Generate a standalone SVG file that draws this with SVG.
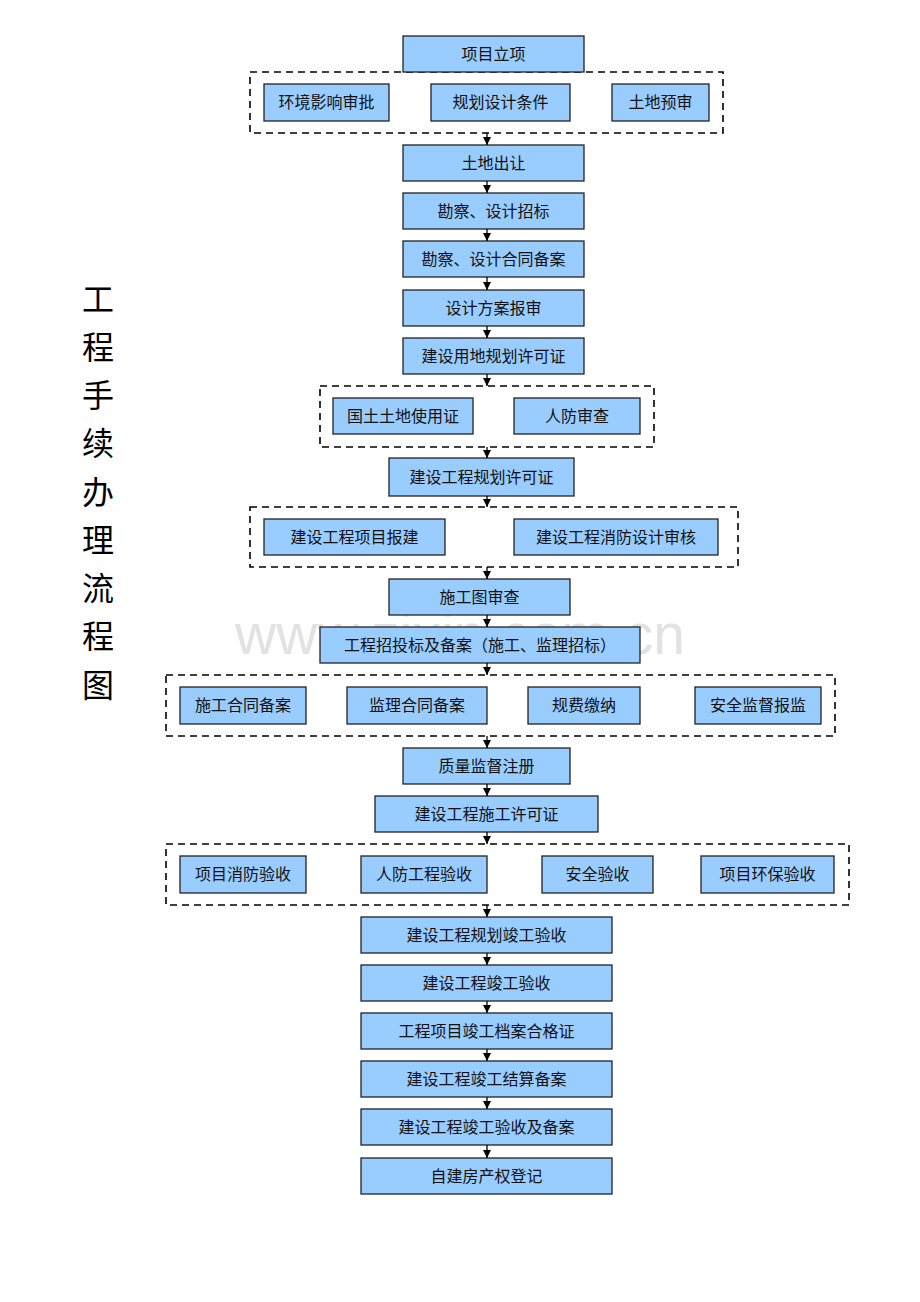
<svg xmlns="http://www.w3.org/2000/svg" width="920" height="1302" viewBox="0 0 920 1302">
<defs>
<marker id="ah" markerWidth="8" markerHeight="8" refX="8" refY="4" orient="auto" markerUnits="userSpaceOnUse"><path d="M0,0 L8,4 L0,8 Z" fill="#000"/></marker>
<style>
.b{fill:#99ccff;stroke:#222;stroke-width:1.3}
.g{fill:none;stroke:#000;stroke-width:1.6;stroke-dasharray:7,5}
.t{font-family:"Liberation Serif","Noto Sans CJK SC",serif;font-size:16px;fill:#111;text-anchor:middle;dominant-baseline:central}
.c{stroke:#000;stroke-width:1.3;fill:none;marker-end:url(#ah)}
.title{font-family:"Noto Sans CJK SC",sans-serif;font-size:32px;fill:#000;text-anchor:middle;dominant-baseline:central}
.wm{font-family:"Liberation Sans","Noto Sans",sans-serif;font-size:57px;fill:#e2e2e2;text-anchor:middle;dominant-baseline:central}
</style>
</defs>
<rect width="920" height="1302" fill="#fff"/>
<text class="wm" x="460" y="634">www.zixin.com.cn</text>
<g id="title">
<text class="title" x="98" y="297">工</text>
<text class="title" x="98" y="345">程</text>
<text class="title" x="98" y="393">手</text>
<text class="title" x="98" y="441">续</text>
<text class="title" x="98" y="490">办</text>
<text class="title" x="98" y="538">理</text>
<text class="title" x="98" y="586">流</text>
<text class="title" x="98" y="634">程</text>
<text class="title" x="98" y="683">图</text>
</g>
<g id="groups">
<rect class="g" x="250" y="72" width="473" height="61"/>
<rect class="g" x="320" y="386" width="334" height="61"/>
<rect class="g" x="250" y="507" width="488" height="60"/>
<rect class="g" x="166" y="675" width="669" height="61"/>
<rect class="g" x="166" y="844" width="683" height="61"/>
</g>
<g id="n1"><rect class="b" x="403" y="36" width="181" height="36"/><text class="t" x="493.5" y="54">项目立项</text></g>
<g id="n1a"><rect class="b" x="264" y="84" width="125" height="37"/><text class="t" x="326.5" y="102.5">环境影响审批</text></g>
<g id="n1b"><rect class="b" x="431" y="84" width="139" height="37"/><text class="t" x="500.5" y="102.5">规划设计条件</text></g>
<g id="n1c"><rect class="b" x="612" y="84" width="97" height="37"/><text class="t" x="660.5" y="102.5">土地预审</text></g>
<g id="n2"><rect class="b" x="403" y="145" width="181" height="36"/><text class="t" x="493.5" y="163">土地出让</text></g>
<g id="n3"><rect class="b" x="403" y="193" width="181" height="36"/><text class="t" x="493.5" y="211">勘察、设计招标</text></g>
<g id="n4"><rect class="b" x="403" y="241" width="181" height="36"/><text class="t" x="493.5" y="259">勘察、设计合同备案</text></g>
<g id="n5"><rect class="b" x="403" y="290" width="181" height="36"/><text class="t" x="493.5" y="308">设计方案报审</text></g>
<g id="n6"><rect class="b" x="403" y="338" width="181" height="36"/><text class="t" x="493.5" y="356">建设用地规划许可证</text></g>
<g id="n6a"><rect class="b" x="333" y="398" width="140" height="36"/><text class="t" x="403" y="416">国土土地使用证</text></g>
<g id="n6b"><rect class="b" x="514" y="398" width="126" height="36"/><text class="t" x="577" y="416">人防审查</text></g>
<g id="n7"><rect class="b" x="389" y="458" width="185" height="38"/><text class="t" x="481.5" y="477">建设工程规划许可证</text></g>
<g id="n7a"><rect class="b" x="264" y="519" width="181" height="36"/><text class="t" x="354.5" y="537">建设工程项目报建</text></g>
<g id="n7b"><rect class="b" x="514" y="519" width="204" height="36"/><text class="t" x="616" y="537">建设工程消防设计审核</text></g>
<g id="n8"><rect class="b" x="389" y="579" width="181" height="36"/><text class="t" x="479.5" y="597">施工图审查</text></g>
<g id="n9"><rect class="b" x="320" y="627" width="320" height="36"/><text class="t" x="480" y="645">工程招投标及备案（施工、监理招标）</text></g>
<g id="n9a"><rect class="b" x="180" y="687" width="126" height="37"/><text class="t" x="243" y="705.5">施工合同备案</text></g>
<g id="n9b"><rect class="b" x="347" y="687" width="140" height="37"/><text class="t" x="417" y="705.5">监理合同备案</text></g>
<g id="n9c"><rect class="b" x="528" y="687" width="112" height="37"/><text class="t" x="584" y="705.5">规费缴纳</text></g>
<g id="n9d"><rect class="b" x="695" y="687" width="126" height="37"/><text class="t" x="758" y="705.5">安全监督报监</text></g>
<g id="n10"><rect class="b" x="403" y="748" width="167" height="36"/><text class="t" x="486.5" y="766">质量监督注册</text></g>
<g id="n11"><rect class="b" x="375" y="796" width="223" height="36"/><text class="t" x="486.5" y="814">建设工程施工许可证</text></g>
<g id="n11a"><rect class="b" x="180" y="856" width="126" height="37"/><text class="t" x="243" y="874.5">项目消防验收</text></g>
<g id="n11b"><rect class="b" x="361" y="856" width="126" height="37"/><text class="t" x="424" y="874.5">人防工程验收</text></g>
<g id="n11c"><rect class="b" x="542" y="856" width="111" height="37"/><text class="t" x="597.5" y="874.5">安全验收</text></g>
<g id="n11d"><rect class="b" x="701" y="856" width="133" height="37"/><text class="t" x="767.5" y="874.5">项目环保验收</text></g>
<g id="n12"><rect class="b" x="361" y="917" width="251" height="36"/><text class="t" x="486.5" y="935">建设工程规划竣工验收</text></g>
<g id="n13"><rect class="b" x="361" y="965" width="251" height="36"/><text class="t" x="486.5" y="983">建设工程竣工验收</text></g>
<g id="n14"><rect class="b" x="361" y="1013" width="251" height="36"/><text class="t" x="486.5" y="1031">工程项目竣工档案合格证</text></g>
<g id="n15"><rect class="b" x="361" y="1061" width="251" height="36"/><text class="t" x="486.5" y="1079">建设工程竣工结算备案</text></g>
<g id="n16"><rect class="b" x="361" y="1109" width="251" height="36"/><text class="t" x="486.5" y="1127">建设工程竣工验收及备案</text></g>
<g id="n17"><rect class="b" x="361" y="1158" width="251" height="36"/><text class="t" x="486.5" y="1176">自建房产权登记</text></g>
<g id="connectors">
<line class="c" x1="487" y1="133" x2="487" y2="145"/>
<line class="c" x1="487" y1="181" x2="487" y2="193"/>
<line class="c" x1="487" y1="229" x2="487" y2="241"/>
<line class="c" x1="487" y1="277" x2="487" y2="290"/>
<line class="c" x1="487" y1="326" x2="487" y2="338"/>
<line class="c" x1="487" y1="374" x2="487" y2="386"/>
<line class="c" x1="487" y1="447" x2="487" y2="458"/>
<line class="c" x1="487" y1="496" x2="487" y2="507"/>
<line class="c" x1="487" y1="567" x2="487" y2="579"/>
<line class="c" x1="487" y1="615" x2="487" y2="627"/>
<line class="c" x1="487" y1="663" x2="487" y2="675"/>
<line class="c" x1="487" y1="736" x2="487" y2="748"/>
<line class="c" x1="487" y1="784" x2="487" y2="796"/>
<line class="c" x1="487" y1="832" x2="487" y2="844"/>
<line class="c" x1="487" y1="905" x2="487" y2="917"/>
<line class="c" x1="487" y1="953" x2="487" y2="965"/>
<line class="c" x1="487" y1="1001" x2="487" y2="1013"/>
<line class="c" x1="487" y1="1049" x2="487" y2="1061"/>
<line class="c" x1="487" y1="1097" x2="487" y2="1109"/>
<line class="c" x1="487" y1="1145" x2="487" y2="1158"/>
</g>
</svg>
